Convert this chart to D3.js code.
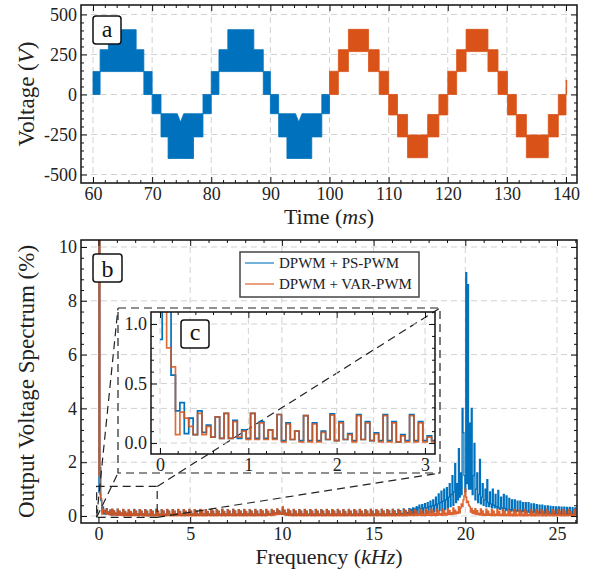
<!DOCTYPE html>
<html><head><meta charset="utf-8">
<script src="https://cdn.jsdelivr.net/npm/d3@7/dist/d3.min.js"></script>
<style>
body{margin:0;background:#fff;}
</style></head><body>
<svg id="chart" width="592" height="573"></svg>
<script>
// ---------------- DATA ----------------
const timeTicks = [60,70,80,90,100,110,120,130,140];
const voltTicks = [-500,-250,0,250,500];
const freqTicks = [0,5,10,15,20,25];
const specTicks = [0,2,4,6,8,10];
const insetFreqTicks = [0,1,2,3];
const insetSpecTicks = [0,0.5,1.0];
const seriesNames = ["DPWM + PS-PWM","DPWM + VAR-PWM"];
const panelLetters = ["a","b","c"];

// time-domain switching bands: [tStart (ms), tEnd (ms), low (V), high (V)]
const psBands = [
 [60.0,61.2,0,143],[61.2,62.6,143,280],[62.6,67.3,143,405],[67.3,68.6,143,280],[68.6,70.0,0,143],
 [70.0,71.5,-120,0],[71.5,72.7,-265,-120],[72.7,77.0,-400,-120],[77.0,78.6,-265,-120],[78.6,80.0,-120,0],
 [80.0,81.3,0,143],[81.3,82.8,143,280],[82.8,87.2,143,405],[87.2,88.8,143,280],[88.8,90.0,0,143],
 [90.0,91.4,-120,0],[91.4,92.8,-265,-120],[92.8,97.0,-400,-120],[97.0,98.7,-265,-120],[98.7,100.0,-120,0]
];
// notches in the upper edge: [t (ms), edge value (V), half width (ms)]
const psNotches = [[74.8,-172,0.55],[94.8,-172,0.55]];
const varBands = [
 [100.0,101.5,0,145],[101.5,103.2,143,280],[103.2,106.6,268,407],[106.6,108.4,143,280],[108.4,110.0,0,145],
 [110.0,111.5,-128,0],[111.5,113.2,-265,-125],[113.2,116.6,-395,-253],[116.6,118.5,-265,-125],[118.5,120.0,-128,0],
 [120.0,121.5,0,145],[121.5,123.1,143,280],[123.1,126.8,268,407],[126.8,128.5,143,280],[128.5,130.1,0,145],
 [130.1,131.6,-128,0],[131.6,133.3,-265,-125],[133.3,137.0,-395,-253],[137.0,138.7,-265,-125],[138.7,140.0,-128,0],
 [140.0,140.12,0,90]
];

// spectrum, 50 Hz bins starting at 0 kHz (values in %), one row = 1 kHz
const binWidth = 0.05;
const psSpectrum = [
 .87,100,1.8,.57,.27,.34,.08,.21,.07,.27,.09,.15,.05,.22,.04,.25,.04,.19,.04,.11,
 .04,.25,.04,.18,.04,.11,.04,.24,.02,.17,.03,.1,.02,.23,.02,.17,.02,.1,.03,.245,
 .02,.18,.03,.08,.02,.24,.03,.18,.02,.085,.02,.24,.02,.18,.01,.07,.02,.24,.02,.18,
 .02,.06,.02,.25,.02,.18,.02,.07,.02,.24,.02,.18,.02,.07,.02,.24,.02,.18,.02,.07,
 .02,.24,.02,.18,.02,.08,.02,.24,.02,.17,.02,.07,.02,.24,.02,.18,.02,.07,.02,.24,
 .02,.18,.02,.08,.02,.24,.02,.18,.02,.07,.02,.24,.02,.18,.02,.08,.02,.24,.02,.17,
 .02,.08,.02,.24,.02,.18,.02,.07,.02,.24,.02,.18,.02,.07,.02,.25,.02,.17,.02,.08,
 .02,.24,.02,.18,.02,.07,.02,.25,.02,.18,.02,.07,.02,.24,.02,.18,.02,.08,.02,.24,
 .02,.17,.02,.08,.02,.24,.02,.18,.02,.07,.02,.24,.02,.18,.02,.07,.02,.24,.02,.18,
 .02,.07,.02,.24,.02,.17,.04,.09,.05,.23,.06,.19,.08,.12,.1,.25,.09,.2,.08,.14,
 .07,.28,.06,.21,.05,.1,.03,.24,.02,.18,.02,.07,.02,.24,.02,.18,.02,.07,.02,.24,
 .02,.18,.02,.07,.02,.24,.02,.18,.02,.07,.02,.24,.02,.18,.02,.07,.02,.24,.02,.18,
 .02,.07,.02,.24,.02,.18,.02,.07,.02,.24,.02,.18,.02,.07,.02,.24,.02,.18,.02,.08,
 .02,.24,.02,.18,.02,.07,.02,.24,.02,.17,.02,.07,.02,.24,.02,.18,.02,.07,.02,.24,
 .02,.18,.02,.08,.02,.24,.02,.18,.02,.07,.02,.24,.02,.18,.02,.07,.02,.25,.02,.18,
 .02,.08,.02,.24,.02,.18,.02,.08,.02,.25,.02,.18,.02,.07,.03,.24,.03,.19,.03,.08,
 .03,.25,.03,.19,.03,.09,.04,.25,.04,.2,.05,.1,.05,.26,.05,.21,.06,.13,.06,.27,
 .06,.25,.08,.3,.07,.28,.1,.35,.08,.3,.4,.1,.28,.42,.1,.3,.46,.12,.3,.5,
 .12,.35,.55,.14,.38,.6,.15,.4,.7,.18,.45,.82,.2,.5,.92,.22,.55,1.0,.25,.6,
 1.05,.3,.7,1.2,.35,.8,1.5,.4,.9,1.95,.5,1.2,.6,2.5,.7,1.6,.8,4.0,3.1,1.5,
 .9,9.05,1.2,8.6,1.0,3.45,1.0,4.0,.8,1.5,2.7,.6,1.0,1.6,.5,.8,2.1,.45,.7,1.2,
 .4,.6,1.0,.35,1.35,.5,.35,.9,.45,.3,1.0,.4,.3,.8,.35,.28,.95,.3,.25,.7,
 .3,.22,.8,.28,.2,.75,.25,.2,.65,.24,.18,.6,.22,.18,.6,.2,.16,.55,.2,.16,
 .55,.2,.15,.5,.18,.14,.5,.18,.14,.5,.16,.12,.45,.15,.12,.45,.15,.1,.42,.14,
 .1,.4,.14,.1,.4,.12,.09,.38,.12,.08,.38,.12,.08,.36,.1,.08,.35,.1,.07,.34,
 .1,.07,.34,.1,.06,.33,.09,.06,.33,.09,.05,.32,.08,.05,.32,.08,.05,.31,.08,.05,
 .3,.07
];
const varSpectrum = [
 1.5,100,.8,.64,.07,.26,.21,.14,.07,.25,.07,.14,.05,.22,.04,.25,.04,.18,.05,.1,
 .03,.25,.03,.17,.03,.11,.03,.24,.01,.16,.03,.1,.01,.23,.01,.16,.01,.09,.03,.235,
 .02,.17,.03,.07,.01,.23,.03,.17,.02,.076,.01,.23,.01,.17,.01,.06,.01,.23,.01,.17,
 .01,.05,.01,.24,.02,.17,.01,.07,.02,.23,.01,.18,.02,.06,.01,.24,.02,.17,.01,.07,
 .02,.23,.01,.17,.02,.08,.01,.24,.02,.16,.01,.07,.02,.23,.01,.17,.02,.06,.01,.24,
 .02,.17,.01,.07,.02,.23,.01,.18,.02,.06,.01,.24,.02,.17,.01,.08,.02,.23,.01,.16,
 .02,.07,.01,.24,.02,.17,.01,.06,.02,.23,.01,.17,.02,.07,.01,.25,.02,.16,.01,.07,
 .02,.23,.01,.17,.02,.07,.01,.24,.02,.18,.01,.06,.02,.23,.01,.17,.02,.08,.01,.24,
 .02,.16,.01,.07,.02,.23,.01,.17,.02,.07,.01,.24,.02,.17,.01,.06,.02,.23,.01,.18,
 .02,.07,.01,.24,.02,.17,.03,.08,.02,.24,.03,.19,.04,.09,.05,.26,.05,.2,.06,.12,
 .08,.35,.06,.22,.04,.1,.03,.25,.02,.18,.02,.07,.01,.24,.02,.17,.01,.07,.02,.23,
 .01,.17,.02,.07,.01,.24,.02,.17,.01,.06,.02,.23,.01,.17,.02,.07,.01,.24,.02,.17,
 .01,.07,.02,.23,.01,.17,.02,.06,.01,.24,.02,.18,.01,.07,.02,.23,.01,.17,.02,.08,
 .01,.24,.02,.17,.01,.07,.02,.23,.01,.16,.02,.07,.01,.24,.02,.17,.01,.06,.02,.23,
 .01,.18,.02,.07,.01,.24,.02,.17,.01,.07,.02,.23,.01,.17,.02,.06,.01,.24,.02,.17,
 .01,.07,.02,.23,.01,.17,.02,.08,.01,.24,.02,.17,.01,.06,.02,.23,.01,.18,.02,.07,
 .01,.24,.02,.17,.01,.07,.02,.23,.01,.17,.02,.06,.01,.24,.02,.18,.01,.07,.02,.23,
 .02,.17,.03,.08,.02,.24,.03,.18,.02,.07,.03,.25,.02,.18,.03,.08,.02,.25,.03,.18,
 .03,.08,.02,.25,.03,.18,.03,.09,.02,.26,.03,.19,.04,.09,.03,.26,.04,.2,.04,.1,
 .04,.27,.05,.2,.05,.12,.06,.3,.07,.22,.08,.15,.1,.35,.12,.3,.45,.35,.6,.75,
 1.0,.7,.5,.55,.4,.35,.15,.28,.1,.2,.08,.27,.06,.2,.05,.1,.04,.26,.04,.19,
 .03,.08,.03,.25,.03,.18,.03,.08,.02,.24,.03,.18,.02,.07,.03,.24,.02,.17,.02,.07,
 .02,.24,.02,.17,.02,.07,.02,.23,.01,.17,.02,.07,.01,.24,.02,.17,.01,.06,.02,.23,
 .01,.17,.02,.07,.01,.24,.02,.17,.01,.06,.02,.23,.01,.17,.02,.07,.01,.24,.02,.17,
 .01,.07,.02,.23,.01,.17,.02,.06,.01,.24,.02,.17,.01,.07,.02,.23,.01,.18,.02,.06,
 .01,.24,.02,.17,.01,.07,.02,.23,.01,.17,.02,.06,.01,.24,.02,.17,.01,.07,.02,.23,
 .01,.17
];
// zoomed region shown in the inset: [fMin, fMax] kHz x [vMin, vMax] %
const zoomRegion = [[-0.1,3.2],[-0.05,1.1]];
const insetBins = 64;

// ---------------- LAYOUT / STYLE ----------------
const FONT = "'Liberation Serif','DejaVu Serif','Noto Serif',serif";
const BLUE = "#0072BD", ORANGE = "#D95319";
const TOP = {l:81,r:577,t:5,b:183};
const BOT = {l:81,r:577,t:240,b:523};
const INS = {l:151,r:435,t:312,b:454};
const INSBOX = {l:118,r:440,t:308,b:473};
const TICK_FS = 18, TITLE_FS = 22;

const svg = d3.select("#chart");

const xT = d3.scaleLinear().domain([57.97,141.86]).range([TOP.l,TOP.r]);
const yT = d3.scaleLinear().domain([-553,559]).range([TOP.b,TOP.t]);
const xB = d3.scaleLinear().domain([-0.954,26.09]).range([BOT.l,BOT.r]);
const yB = d3.scaleLinear().domain([-0.26,10.26]).range([BOT.b,BOT.t]);
const xI = d3.scaleLinear().domain([-0.102,3.113]).range([INS.l,INS.r]);
const yI = d3.scaleLinear().domain([-0.092,1.101]).range([INS.b,INS.t]);

function minorVals(scale, step, majors){
  const [a,b] = scale.domain(), r = scale.range(), out = [];
  for(let i=Math.ceil(a/step); i<=Math.floor(b/step); i++){
    const v = +(i*step).toFixed(6);
    if(majors.some(m=>Math.abs(m-v)<1e-6)) continue;
    const p = scale(v);
    if(Math.abs(p-r[0])<1.5 || Math.abs(p-r[1])<1.5) continue;
    out.push(v);
  }
  return out;
}

function txt(sel, size){
  return sel.style("font-family",FONT).style("font-size",size+"px").attr("fill","#222");
}

function drawGrid(g, x, y, xt, yt){
  const [L,R] = x.range(), [B,T] = y.range();
  const gg = g.append("g").attr("stroke","#d2d2d2").attr("stroke-width",1).attr("stroke-dasharray","6,4").attr("fill","none");
  gg.selectAll(".gx").data(xt).join("line").attr("x1",d=>x(d)).attr("x2",d=>x(d)).attr("y1",B).attr("y2",T);
  gg.selectAll(".gy").data(yt).join("line").attr("x1",L).attr("x2",R).attr("y1",d=>y(d)).attr("y2",d=>y(d));
}

function styleAxis(sel, fs){
  sel.select(".domain").remove();
  sel.attr("font-family",null).attr("font-size",null);
  sel.selectAll("line").attr("stroke","#111").attr("stroke-width",1);
  sel.selectAll("text").call(s=>txt(s,fs));
}

function drawFrame(g, x, y, xt, yt, xm, ym, xfmt, yfmt){
  const [L,R] = x.range(), [B,T] = y.range();
  const ax = (fn, sc, vals, size, fmt, pad, tr) => {
    g.append("g").attr("transform",tr)
     .call(fn(sc).tickValues(vals).tickSizeInner(-size).tickSizeOuter(0).tickPadding(pad).tickFormat(fmt))
     .call(s=>styleAxis(s,TICK_FS));
  };
  ax(d3.axisBottom, x, xt, 6, xfmt, 4, `translate(0,${B})`);
  ax(d3.axisBottom, x, xm, 3, ()=>"", 4, `translate(0,${B})`);
  ax(d3.axisTop, x, xt, 6, ()=>"", 4, `translate(0,${T})`);
  ax(d3.axisTop, x, xm, 3, ()=>"", 4, `translate(0,${T})`);
  ax(d3.axisLeft, y, yt, 6, yfmt, 4, `translate(${L},0)`);
  ax(d3.axisLeft, y, ym, 3, ()=>"", 4, `translate(${L},0)`);
  ax(d3.axisRight, y, yt, 6, ()=>"", 4, `translate(${R},0)`);
  ax(d3.axisRight, y, ym, 3, ()=>"", 4, `translate(${R},0)`);
  g.append("rect").attr("x",L).attr("y",T).attr("width",R-L).attr("height",B-T)
   .attr("fill","none").attr("stroke","#111").attr("stroke-width",1.5);
}

function labelBox(g, x, y, w, h, t, base){
  g.append("rect").attr("x",x).attr("y",y).attr("width",w).attr("height",h).attr("rx",3)
   .attr("fill","#fff").attr("stroke","#111").attr("stroke-width",1.5);
  g.append("text").attr("x",x+w/2).attr("y",base).attr("text-anchor","middle")
   .call(s=>txt(s,24)).attr("fill","#111").text(t);
}

function clip(id, box){
  svg.append("clipPath").attr("id",id).append("rect")
   .attr("x",box.l).attr("y",box.t).attr("width",box.r-box.l).attr("height",box.b-box.t);
}
clip("clipTop",TOP); clip("clipBot",BOT); clip("clipIns",INS);

function title(g, parts, x, y, rot){
  const t = g.append("text").attr("transform",`translate(${x},${y})${rot?" rotate(-90)":""}`)
    .attr("text-anchor","middle").call(s=>txt(s,TITLE_FS + (rot?1:0)));
  parts.forEach(([s,it])=>t.append("tspan").style("font-style",it?"italic":"normal").text(s));
  return t;
}

// ---------------- PANEL a ----------------
const gA = svg.append("g");
drawGrid(gA, xT, yT, timeTicks, voltTicks);

function bandPoints(bands, notches){
  const pts = [];
  bands.forEach(([t0,t1,lo,hi])=>{
    pts.push({t:t0,lo,hi});
    notches.filter(n=>n[0]>t0 && n[0]<t1).forEach(([tn,nh,hw])=>{
      pts.push({t:tn-hw,lo,hi},{t:tn,lo,hi:nh},{t:tn+hw,lo,hi});
    });
    pts.push({t:t1,lo,hi});
  });
  return pts;
}
const band = d3.area().x(d=>xT(d.t)).y0(d=>yT(d.lo)).y1(d=>yT(d.hi));
const gData = gA.append("g").attr("clip-path","url(#clipTop)");
gData.append("path").datum(bandPoints(psBands, psNotches)).attr("d",band)
  .attr("fill",BLUE).attr("stroke",BLUE).attr("stroke-width",0.8);
gData.append("path").datum(bandPoints(varBands, [])).attr("d",band)
  .attr("fill",ORANGE).attr("stroke",ORANGE).attr("stroke-width",0.8);

drawFrame(gA, xT, yT, timeTicks, voltTicks,
  minorVals(xT,2,timeTicks), minorVals(yT,50,voltTicks), d=>d, d=>d<0?"-"+(-d):String(d));
labelBox(gA, 93, 16, 28, 28, panelLetters[0], 36.5);

title(gA, [["Voltage ("],["V",1],[")"]], 34, (TOP.t+TOP.b)/2, true);
title(gA, [["Time ("],["ms",1],[")"]], (TOP.l+TOP.r)/2, 223.5, false);

// ---------------- PANEL b ----------------
const gB = svg.append("g");
drawGrid(gB, xB, yB, freqTicks, specTicks);

const stepLine = (x,y)=>d3.line().x((d,i)=>x(i*binWidth)).y(d=>y(d)).curve(d3.curveStep);
const gBD = gB.append("g").attr("clip-path","url(#clipBot)");
gBD.append("path").datum(psSpectrum).attr("d",stepLine(xB,yB))
  .attr("fill","none").attr("stroke",BLUE).attr("stroke-width",1.3);
gBD.append("path").datum(varSpectrum).attr("d",stepLine(xB,yB))
  .attr("fill","none").attr("stroke",ORANGE).attr("stroke-width",1.4).attr("stroke-opacity",0.9);

// zoom rectangle + connectors
const zx0 = xB(zoomRegion[0][0]), zx1 = xB(zoomRegion[0][1]);
const zyT = yB(zoomRegion[1][1]), zyB = yB(zoomRegion[1][0]);
const dash = g=>g.attr("fill","none").attr("stroke","#222").attr("stroke-width",1.2).attr("stroke-dasharray","8,5");
const conn = [
  [zx0,zyB,INSBOX.l,INSBOX.t],
  [zx0,zyB,INSBOX.l,INSBOX.b],
  [zx1,zyT,INSBOX.r,INSBOX.t],
  [zx1,zyB,INSBOX.r,INSBOX.b]
];
gB.append("g").call(dash).selectAll("line").data(conn).join("line")
  .attr("x1",d=>d[0]).attr("y1",d=>d[1]).attr("x2",d=>d[2]).attr("y2",d=>d[3]);
gB.append("rect").attr("x",zx0).attr("y",zyT).attr("width",zx1-zx0).attr("height",zyB-zyT).call(dash);

drawFrame(gB, xB, yB, freqTicks, specTicks,
  minorVals(xB,1,freqTicks), minorVals(yB,0.4,specTicks), d=>d, d=>d);

// inset
const gI = svg.append("g");
gI.append("rect").attr("x",INSBOX.l).attr("y",INSBOX.t).attr("width",INSBOX.r-INSBOX.l).attr("height",INSBOX.b-INSBOX.t)
  .attr("fill","#fff").call(dash);
drawGrid(gI, xI, yI, insetFreqTicks, insetSpecTicks);
const gID = gI.append("g").attr("clip-path","url(#clipIns)");
gID.append("path").datum(psSpectrum.slice(0,insetBins)).attr("d",stepLine(xI,yI))
  .attr("fill","none").attr("stroke",BLUE).attr("stroke-width",1.7);
gID.append("path").datum(varSpectrum.slice(0,insetBins)).attr("d",stepLine(xI,yI))
  .attr("fill","none").attr("stroke",ORANGE).attr("stroke-width",1.7).attr("stroke-opacity",0.85);
drawFrame(gI, xI, yI, insetFreqTicks, insetSpecTicks,
  minorVals(xI,0.2,insetFreqTicks), minorVals(yI,0.1,insetSpecTicks), d=>d, d3.format(".1f"));
labelBox(gI, 181, 320, 28, 28, panelLetters[2], 340);

// legend
const gL = svg.append("g");
gL.append("rect").attr("x",240).attr("y",252).attr("width",179).attr("height",45)
  .attr("fill","#fff").attr("stroke","#444").attr("stroke-width",1.5);
[BLUE, ORANGE].forEach((c,i)=>{
  const yy = 263 + i*21;
  gL.append("line").attr("x1",245).attr("x2",274).attr("y1",yy).attr("y2",yy)
    .attr("stroke",c).attr("stroke-width",1.3).attr("stroke-opacity",0.85);
  gL.append("text").attr("x",279).attr("y",yy+5).call(s=>txt(s,15)).text(seriesNames[i]);
});

labelBox(gB, 93, 254, 29, 28, panelLetters[1], 276.5);

title(gB, [["Output Voltage Spectrum (%)"]], 34, (BOT.t+BOT.b)/2, true);
title(gB, [["Frequency ("],["kHz",1],[")"]], (BOT.l+BOT.r)/2, 563.5, false);
</script>
</body></html>
